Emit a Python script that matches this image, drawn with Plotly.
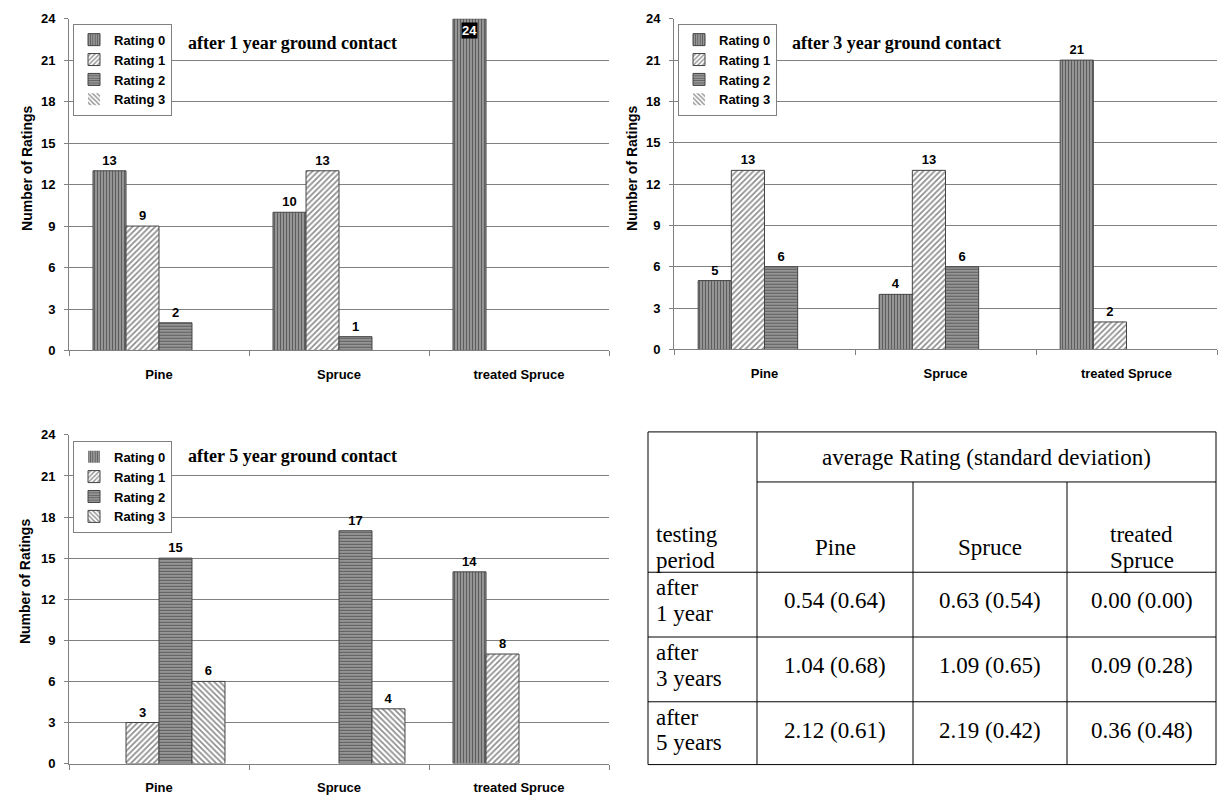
import plotly.graph_objects as go

# ---------------- data ----------------
categories = ["Pine", "Spruce", "treated Spruce"]
rating_names = ["Rating 0", "Rating 1", "Rating 2", "Rating 3"]

# counts per rating (rows: Rating 0..3, columns: Pine, Spruce, treated Spruce)
year1 = [[13, 10, 24], [9, 13, 0], [2, 1, 0], [0, 0, 0]]
year3 = [[5, 4, 21], [13, 13, 2], [6, 6, 0], [0, 0, 0]]
year5 = [[0, 0, 14], [3, 0, 8], [15, 17, 0], [6, 4, 0]]
panel_titles = ["after 1 year ground contact", "after 3 year ground contact", "after 5 year ground contact"]

y_ticks = [0, 3, 6, 9, 12, 15, 18, 21, 24]
y_max = 24

table_periods = ["after<br>1 year", "after<br>3 years", "after<br>5 years"]
table_woods = ["Pine", "Spruce", "treated<br>Spruce"]
table_avg = [[0.54, 0.63, 0.00], [1.04, 1.09, 0.09], [2.12, 2.19, 0.36]]
table_sd = [[0.64, 0.54, 0.00], [0.68, 0.65, 0.28], [0.61, 0.42, 0.48]]
table_head = "average Rating (standard deviation)"
table_corner = "testing<br>period"

# ---------------- layout geometry (pixels) ----------------
W, H = 1218, 803
panels = [  # (x0, x1, ytop, ybottom)
    (69, 609, 12, 350),
    (674, 1217, 12, 349),
    (69, 609, 436, 771),
]
title_pos = [(186, 37), (790, 37), (186, 458)]
legend_pos = [(73, 17), (678, 17), (73, 442)]
ytitle_pos = [(27, 165), (632, 165), (25, 586)]
BARGAP = 0.267

patterns = [
    dict(shape="|", fgcolor="#1a1a1a", bgcolor="#a0a0a0", size=3, solidity=0.45),
    dict(shape="/", fgcolor="#1a1a1a", bgcolor="#ffffff", size=4, solidity=0.42),
    dict(shape="-", fgcolor="#1a1a1a", bgcolor="#a0a0a0", size=3, solidity=0.45),
    dict(shape="\\", fgcolor="#1a1a1a", bgcolor="#ffffff", size=4, solidity=0.42),
]

AX = "Liberation Sans"
SERIF = "Liberation Serif"

fig = go.Figure()
annotations = []
shapes = []


def px2x(p):
    return p / W


def px2y(p):
    return 1 - p / H


for k, data in enumerate([year1, year3, year5]):
    xa = "x" if k == 0 else f"x{k+1}"
    ya = "y" if k == 0 else f"y{k+1}"
    lg = "legend" if k == 0 else f"legend{k+1}"
    for i, name in enumerate(rating_names):
        vals = data[i]
        txt = [str(v) if 0 < v < y_max else "" for v in vals]
        fig.add_trace(go.Bar(
            x=categories, y=vals, name=name, text=txt,
            textposition="outside", cliponaxis=False,
            textfont=dict(family=AX, size=13, color="black", weight="bold"),
            marker=dict(color=patterns[i]["bgcolor"], pattern=patterns[i],
                        line=dict(color="#444444", width=[1 if v > 0 else 0 for v in vals])),
            xaxis=xa, yaxis=ya, legend=lg, showlegend=True,
        ))
    x0, x1, yt, yb = panels[k]
    cat_px = (x1 - x0) / len(categories)
    bar_px = cat_px * (1 - BARGAP) / len(rating_names)
    for i in range(len(rating_names)):
        for j, v in enumerate(data[i]):
            if v >= y_max:
                annotations.append(dict(
                    x=categories[j], y=v, xref=xa, yref=ya,
                    xshift=(i - (len(rating_names) - 1) / 2) * bar_px, yshift=-3,
                    text=str(v), showarrow=False, yanchor="top",
                    bgcolor="black", borderpad=0,
                    font=dict(family=AX, size=13, color="white", weight="bold")))
    tx, ty = title_pos[k]
    annotations.append(dict(x=px2x(tx), y=px2y(ty), xref="paper", yref="paper",
                            xanchor="left", yanchor="middle", showarrow=False,
                            text=panel_titles[k],
                            font=dict(family=SERIF, size=18, color="black", weight="bold")))
    ax_, ay_ = ytitle_pos[k]
    annotations.append(dict(x=px2x(ax_), y=px2y(ay_), xref="paper", yref="paper",
                            xanchor="center", yanchor="middle", showarrow=False,
                            text="Number of Ratings", textangle=-90,
                            font=dict(family=AX, size=14, color="black", weight="bold")))
    lx, ly = legend_pos[k]
    fig.update_layout(**{lg: dict(
        x=px2x(lx), y=px2y(ly), xanchor="left", yanchor="top",
        bordercolor="#808080", borderwidth=1, bgcolor="white",
        font=dict(family=AX, size=13, color="black", weight="bold"),
        tracegroupgap=0, itemwidth=30, traceorder="normal",
    )})
    xkey = "xaxis" if k == 0 else f"xaxis{k+1}"
    ykey = "yaxis" if k == 0 else f"yaxis{k+1}"
    fig.update_layout(**{
        xkey: dict(domain=[px2x(x0), px2x(x1)], anchor=ya, showgrid=False,
                   showline=True, linecolor="#808080", linewidth=1,
                   ticks="outside", tickson="boundaries", ticklen=5, tickcolor="#808080",
                   ticklabelstandoff=12,
                   tickfont=dict(family=AX, size=13, color="black", weight="bold"),
                   fixedrange=True),
        ykey: dict(domain=[px2y(yb), px2y(yt)], anchor=xa, range=[0, y_max],
                   tickvals=y_ticks, showgrid=True, gridcolor="#808080", gridwidth=1,
                   showline=True, linecolor="#808080", linewidth=1, zeroline=False,
                   ticks="outside", ticklen=4, tickcolor="#808080", ticklabelstandoff=6,
                   tickfont=dict(family=AX, size=13, color="black", weight="bold"),
                   fixedrange=True),
    })

# ---------------- table ----------------
col_x = [648, 757, 913, 1067, 1216]
row_y = [433, 484, 576, 642, 708, 772]
head_text_y = 459
sub_text_y = 551
data_text_y = [605, 671, 737]
LS = 26
line = dict(color="black", width=1)


def hline(y, xa_, xb_):
    shapes.append(dict(type="line", xref="paper", yref="paper",
                       x0=px2x(xa_), x1=px2x(xb_), y0=px2y(y), y1=px2y(y), line=line))


def vline(x, ya_, yb_):
    shapes.append(dict(type="line", xref="paper", yref="paper",
                       x0=px2x(x), x1=px2x(x), y0=px2y(ya_), y1=px2y(yb_), line=line))


shapes.append(dict(type="rect", xref="paper", yref="paper",
                   x0=px2x(col_x[0]), x1=px2x(col_x[-1]), y0=px2y(row_y[-1]), y1=px2y(row_y[0]),
                   line=line))
hline(row_y[1], col_x[1], col_x[-1])
vline(col_x[1], row_y[0], row_y[-1])
for cx in col_x[2:-1]:
    vline(cx, row_y[1], row_y[-1])
for ry in row_y[2:-1]:
    hline(ry, col_x[0], col_x[-1])

tfont = dict(family=SERIF, size=23, color="black")


def cell_text(text, xc, yc, anchor="center"):
    parts = text.split("<br>")
    n = len(parts)
    for m, p in enumerate(parts):
        annotations.append(dict(x=px2x(xc), y=px2y(yc + (m - (n - 1) / 2) * LS),
                                xref="paper", yref="paper", showarrow=False,
                                xanchor=anchor, yanchor="middle", text=p, font=tfont))


cell_text(table_head, (col_x[1] + col_x[-1]) / 2, head_text_y)
cell_text(table_corner, col_x[0] + 6, sub_text_y, anchor="left")
for j, wname in enumerate(table_woods):
    cell_text(wname, (col_x[j + 1] + col_x[j + 2]) / 2, sub_text_y)
for r, per in enumerate(table_periods):
    cell_text(per, col_x[0] + 6, data_text_y[r], anchor="left")
    for j in range(len(table_woods)):
        cell_text(f"{table_avg[r][j]:.2f} ({table_sd[r][j]:.2f})",
                  (col_x[j + 1] + col_x[j + 2]) / 2, data_text_y[r])

fig.update_layout(
    width=W, height=H, margin=dict(l=0, r=0, t=0, b=0),
    paper_bgcolor="white", plot_bgcolor="white",
    barmode="group", bargap=BARGAP, bargroupgap=0,
    annotations=annotations, shapes=shapes,
    font=dict(family=AX, color="black"),
)

fig.write_html("out.html", config={"displayModeBar": False},
               post_script="document.body.style.margin='0';document.body.style.overflow='hidden';")
